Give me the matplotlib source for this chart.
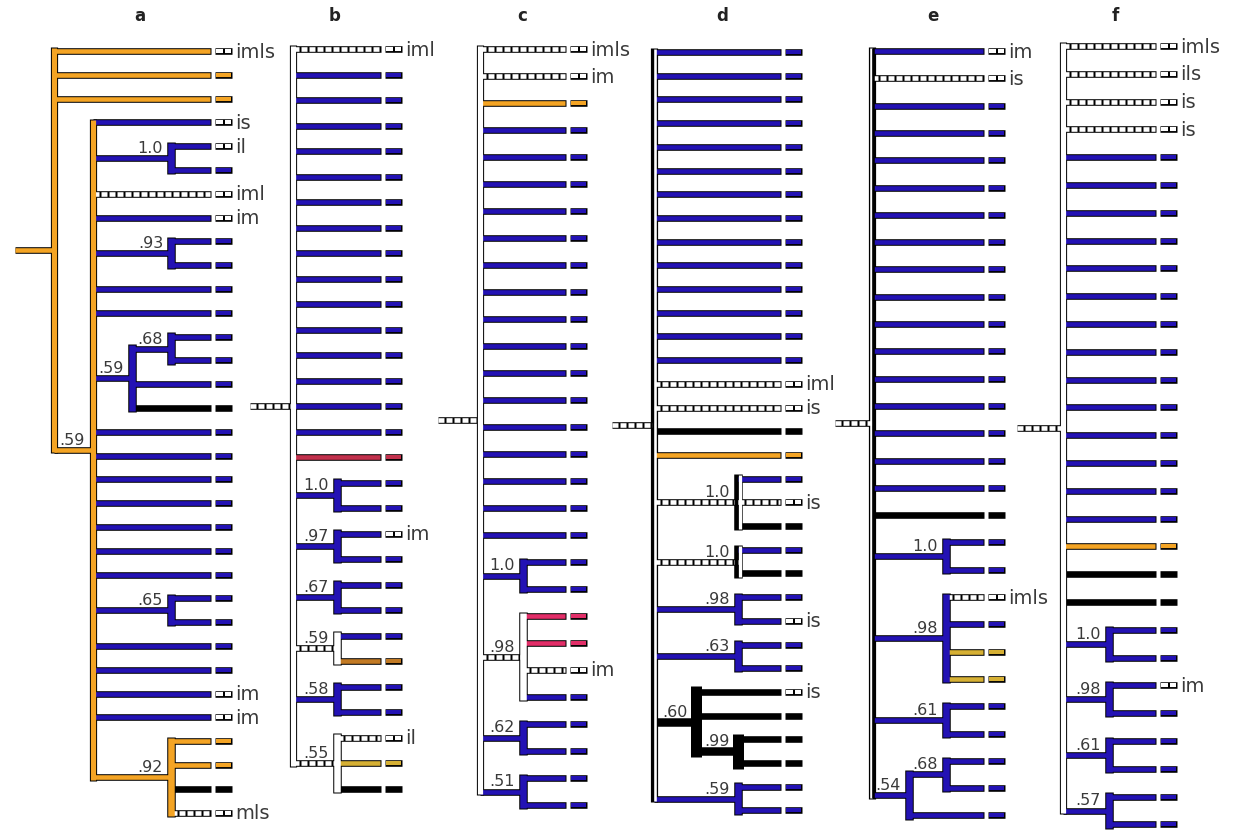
import matplotlib
matplotlib.use("Agg")
import matplotlib.pyplot as plt

plt.rcParams["lines.scale_dashes"] = False

FIG_W, FIG_H, DPI = 1235, 837, 100
PT = 72.0 / DPI  # points per pixel

# Trees in a small Newick-like notation.
# Leaf:  STATE[:label]        Clade: (children)STATE[#support]
# States: B blue, O orange, N brown-orange, Y yellow, R red, P pink, K black,
#         W white (dashed on horizontal branches); two letters = split node.
PANELS = ["a", "b", "c", "d", "e", "f"]

TREE_A = ("(O:imls,O,O,(B:is,(B:il,B)B#1.0,W:iml,B:im,(B,B)B#.93,B,B,"
          "((B,B)B#.68,B,K)B#.59,B,B,B,B,B,B,B,(B,B)B#.65,B,B,B:im,B:im,"
          "(O,O,K,W:mls)O#.92)O#.59)O")
TREE_B = ("(W:iml,B,B,B,B,B,B,B,B,B,B,B,B,B,B,B,R,(B,B)B#1.0,(B:im,B)B#.97,"
          "(B,B)B#.67,(B,N)W#.59,(B,B)B#.58,(W:il,Y,K)W#.55)W")
TREE_C = ("(W:imls,W:im,O,B,B,B,B,B,B,B,B,B,B,B,B,B,B,B,B,(B,B)B#1.0,"
          "(P,P,W:im,B)W#.98,(B,B)B#.62,(B,B)B#.51)W")
TREE_D = ("(B,B,B,B,B,B,B,B,B,B,B,B,B,B,W:iml,W:is,K,O,(B,W:is,K)KW#1.0,"
          "(B,K)KW#1.0,(B,B:is)B#.98,(B,B)B#.63,(K:is,K,(K,K)K#.99)K#.60,"
          "(B,B)B#.59)KW")
TREE_E = ("(B:im,W:is,B,B,B,B,B,B,B,B,B,B,B,B,B,B,B,K,(B,B)B#1.0,"
          "(W:imls,B,Y,Y)B#.98,(B,B)B#.61,((B,B)B#.68,B)B#.54)WK")
TREE_F = ("(W:imls,W:ils,W:is,W:is,B,B,B,B,B,B,B,B,B,B,B,B,B,B,O,K,K,"
          "(B,B)B#1.0,(B:im,B)B#.98,(B,B)B#.61,(B,B)B#.57)W")
TREES = [TREE_A, TREE_B, TREE_C, TREE_D, TREE_E, TREE_F]

STATE_COLORS = {
    "B": "#2312b4", "O": "#f4a424", "N": "#c27a24", "Y": "#d6b034",
    "R": "#c2304c", "P": "#e22e68", "K": "#000000", "W": "#ffffff",
}

# Per-panel placement (pixels): first row, row spacing, tip x, level step, title x
LAYOUT = {
    "a": dict(y0=52, dy=23.8, xl=210, step=39, tx=140),
    "b": dict(y0=50, dy=25.5, xl=380, step=43.5, tx=335),
    "c": dict(y0=50, dy=27.0, xl=565, step=42.5, tx=522),
    "d": dict(y0=53, dy=23.7, xl=780, step=42, tx=722),
    "e": dict(y0=52, dy=27.3, xl=983, step=37, tx=933),
    "f": dict(y0=47, dy=27.8, xl=1155, step=46, tx=1115),
}
HEAVY = {"d": {".60", ".99"}}

H_CORE = 4.6      # horizontal branch core width (px)
V_CORE = 6.5      # clade vertical core width (px)
V_CORE_BIG = 5.2  # root / large clade vertical
TERM_A, TERM_B = 5, 22

fig = plt.figure(figsize=(FIG_W / DPI, FIG_H / DPI), dpi=DPI)
ax = fig.add_axes([0, 0, 1, 1])
ax.set_xlim(0, FIG_W)
ax.set_ylim(FIG_H, 0)
ax.axis("off")


def parse(s):
    pos = 0

    def node():
        nonlocal pos
        kids = []
        if s[pos] == "(":
            pos += 1
            while True:
                kids.append(node())
                ch = s[pos]
                pos += 1
                if ch == ")":
                    break
        start = pos
        while pos < len(s) and s[pos] not in ",()":
            pos += 1
        tok = s[start:pos]
        support = None
        if "#" in tok:
            tok, support = tok.split("#")
        label = None
        if ":" in tok:
            tok, label = tok.split(":")
        return dict(state=tok, label=label, support=support, kids=kids)

    return node()


def place(n, counter, L):
    if not n["kids"]:
        n["y"] = L["y0"] + counter[0] * L["dy"]
        counter[0] += 1
        n["h"] = 0
    else:
        for k in n["kids"]:
            place(k, counter, L)
        n["y"] = (n["kids"][0]["y"] + n["kids"][-1]["y"]) / 2
        n["h"] = 1 + max(k["h"] for k in n["kids"])
    n["x"] = L["xl"] - n["h"] * L["step"]


def hline(x0, x1, y, state, core):
    ax.plot([x0, x1 + 1], [y, y], color="black", lw=(core + 2) * PT,
            solid_capstyle="butt", zorder=1)
    if state == "W":
        ax.plot([x0, x1], [y, y], color="white", lw=core * PT,
                linestyle=(0, (6 * PT, 2 * PT)), dash_capstyle="butt", zorder=2)
    else:
        ax.plot([x0, x1], [y, y], color=STATE_COLORS[state], lw=core * PT,
                solid_capstyle="butt", zorder=2)


def vline(x, ya, yb, state, core):
    e_out = (core + 2) / 2
    ax.plot([x, x], [ya - e_out, yb + e_out], color="black",
            lw=(core + 2) * PT, solid_capstyle="butt", zorder=1)
    e_in = core / 2
    if len(state) == 2:
        for off, st in ((-core / 4, state[0]), (core / 4, state[1])):
            ax.plot([x + off, x + off], [ya - e_in, yb + e_in],
                    color=STATE_COLORS[st], lw=core / 2 * PT,
                    solid_capstyle="butt", zorder=3)
    else:
        ax.plot([x, x], [ya - e_in, yb + e_in], color=STATE_COLORS[state],
                lw=core * PT, solid_capstyle="butt", zorder=3)


def terminal(xl, y, state):
    xa, xb = xl + TERM_A, xl + TERM_B
    ax.plot([xa, xb], [y, y], color="black", lw=(H_CORE + 2) * PT,
            solid_capstyle="butt", zorder=1)
    if state == "W":
        ax.plot([xa + 1, xb - 1], [y, y], color="white", lw=(H_CORE - 0.5) * PT,
                linestyle=(0, (7 * PT, 2 * PT)), dash_capstyle="butt", zorder=2)
    else:
        ax.plot([xa + 1, xb - 1], [y, y], color=STATE_COLORS[state],
                lw=(H_CORE - 0.5) * PT, solid_capstyle="butt", zorder=2)


def draw(n, parent_x, L, panel, is_root=False):
    hstate = "W" if len(n["state"]) == 2 else n["state"]
    heavy = n["support"] in HEAVY.get(panel, set())
    if n["kids"]:
        hcore = 6.5 if heavy else H_CORE
        hline(parent_x, n["x"], n["y"], hstate, hcore)
        if heavy:
            vcore = 9.0
        elif is_root or n["h"] >= 3:
            vcore = V_CORE_BIG
        else:
            vcore = V_CORE
        vline(n["x"], n["kids"][0]["y"], n["kids"][-1]["y"], n["state"], vcore)
        for k in n["kids"]:
            draw(k, n["x"], L, panel)
        if n["support"]:
            ax.text(n["x"] - 8, n["y"] - 6, n["support"], ha="right",
                    va="baseline", fontsize=11.5, color="#3a3a3a", zorder=5)
    else:
        hline(parent_x, L["xl"], n["y"], hstate, H_CORE)
        terminal(L["xl"], n["y"], "W" if n["label"] else n["state"])
        if n["label"]:
            ax.text(L["xl"] + TERM_B + 3, n["y"], n["label"], ha="left",
                    va="center", fontsize=14, color="#3a3a3a", zorder=5)


for panel, tree_str in zip(PANELS, TREES):
    L = LAYOUT[panel]
    root = parse(tree_str)
    place(root, [0], L)
    draw(root, root["x"] - L["step"], L, panel, is_root=True)
    ax.text(L["tx"], 16, panel, ha="center", va="center", fontsize=12,
            fontweight="bold", color="#222222")

fig.savefig("out.png", dpi=DPI, facecolor="white")
